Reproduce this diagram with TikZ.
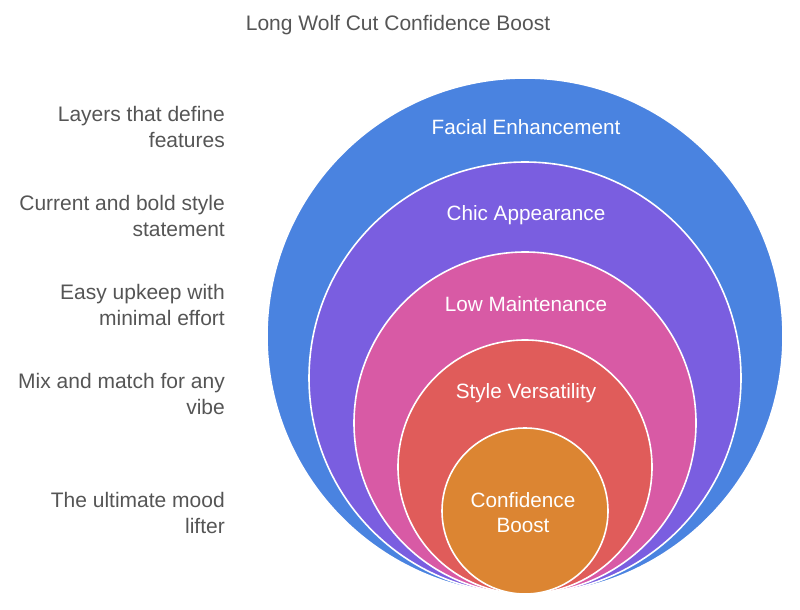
\documentclass[tikz,border=0pt]{standalone}
\usepackage{fontspec}
\setmainfont{Liberation Sans}
\usetikzlibrary{positioning}
\definecolor{txtgray}{HTML}{555555}
\definecolor{cBlue}{HTML}{4A83E0}
\definecolor{cPurple}{HTML}{7A5EE0}
\definecolor{cPink}{HTML}{D85AA5}
\definecolor{cRed}{HTML}{E05C5A}
\definecolor{cOrange}{HTML}{DC8532}

\begin{document}
\begin{tikzpicture}[
        x=1pt, y=-1pt,
        ring/.style={circle, draw=white, line width=1.6pt, inner sep=0pt, outer sep=0pt},
        inlabel/.style={text=white, font=\fontsize{20.7}{25}\selectfont, align=center},
        sidelabel/.style={text=txtgray, font=\fontsize{21}{25.5}\selectfont, align=right, anchor=east, inner sep=0pt},
        title/.style={text=txtgray, font=\fontsize{21}{24}\selectfont}
    ]
        \useasboundingbox (0,0) rectangle (800,610);

        % nested rings, all touching at the bottom
        \node[ring, fill=cBlue,   minimum size=516pt] (facial)  at (525,336) {};
        \node[ring, fill=cPurple, minimum size=432pt] (chic)    at (525,378) {};
        \node[ring, fill=cPink,   minimum size=342pt] (lowmain) at (525,423) {};
        \node[ring, fill=cRed,    minimum size=254pt] (versa)   at (525,467) {};
        \node[ring, fill=cOrange, minimum size=166pt] (confid)  at (525,511) {};

        \node[inlabel] (facialtxt)  at (526,127) {Facial Enhancement};
        \node[inlabel] (chictxt)    at (526,215) {Chic Appearance};
        \node[inlabel] (lowmaintxt) at (526,304) {Low Maintenance};
        \node[inlabel] (versatxt)   at (526,393) {Style Versatility};
        \node[inlabel] (confidtxt)  at (523,513) {Confidence\\Boost};

        \node[title] (head) at (398,25) {Long Wolf Cut Confidence Boost};

        \node[sidelabel] (facialnote)  at (225,127) {Layers that define\\features};
        \node[sidelabel] (chicnote)    at (225,216) {Current and bold style\\statement};
        \node[sidelabel] (lowmainnote) at (225,305) {Easy upkeep with\\minimal effort};
        \node[sidelabel] (versanote)   at (225,394) {Mix and match for any\\vibe};
        \node[sidelabel] (confidnote)  at (225,513) {The ultimate mood\\lifter};
    \end{tikzpicture}
\end{document}
